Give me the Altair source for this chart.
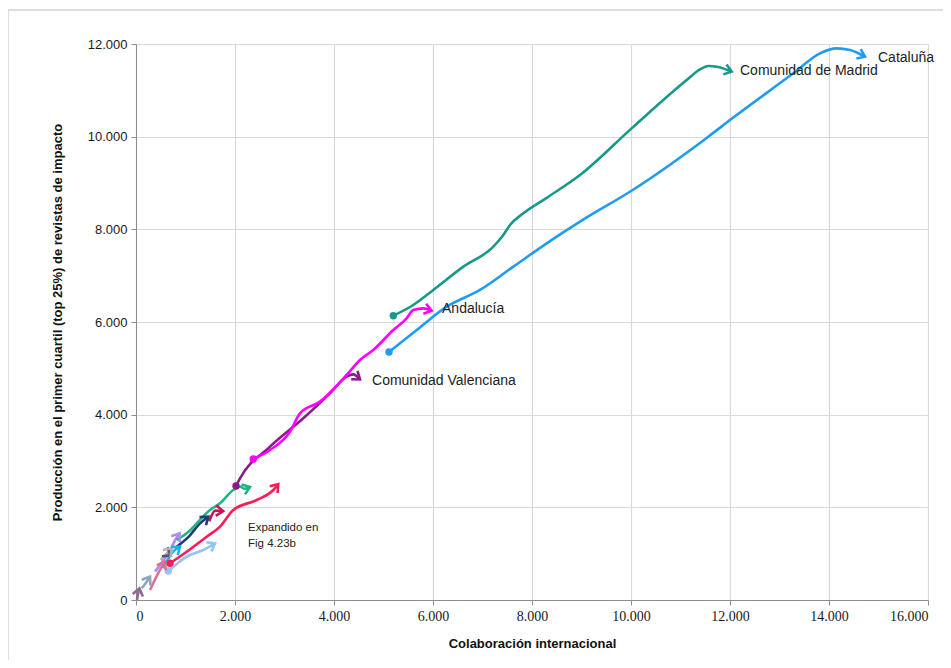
import math
import altair as alt
import pandas as pd

# ---------------- data ----------------
cat_x = [5111, 5671, 6276, 6949, 7622, 8297, 8970, 10034, 11562, 12046, 13279, 13818, 14155, 14424, 14727]
cat_y = [5352, 5827, 6330, 6691, 7194, 7698, 8166, 8849, 10000, 10396, 11367, 11799, 11906, 11870, 11726]

mad_x = [5198, 5602, 6007, 6613, 7219, 7421, 7556, 7825, 8297, 8970, 10034, 11125, 11394, 11562, 11731, 12034]
mad_y = [6136, 6367, 6691, 7194, 7626, 7878, 8094, 8346, 8680, 9172, 10201, 11222, 11452, 11524, 11510, 11403]

and_x = [2370, 2707, 3111, 3313, 3717, 4256, 4525, 4794, 5198, 5467, 5602, 5803, 5972]
and_y = [3043, 3237, 3633, 4029, 4281, 4856, 5180, 5396, 5827, 6079, 6259, 6295, 6244]

val_x = [2020, 2101, 2707, 3380, 3919, 4256, 4390, 4525]
val_y = [2460, 2626, 3309, 3921, 4461, 4820, 4870, 4760]

red_x = [687, 1024, 1428, 1697, 1966, 2438, 2774, 2873]
red_y = [792, 1042, 1366, 1582, 1942, 2158, 2374, 2500]

grn_x = [822, 1024, 1495, 1697, 1966, 2101, 2200, 2303]
grn_y = [1295, 1439, 1942, 2087, 2374, 2446, 2400, 2439]

nav_x = [822, 1050, 1293, 1461]
nav_y = [1150, 1350, 1655, 1798]

mar_x = [1480, 1600, 1760]
mar_y = [1700, 1930, 1920]

lbl_x = [653, 850, 1024, 1360, 1596]
lbl_y = [626, 800, 935, 1079, 1223]

lav_x = [384, 485, 650, 822, 880]
lav_y = [612, 755, 1000, 1350, 1440]

cyn_x = [552, 721, 889]
cyn_y = [684, 1008, 1151]

gry_x = [500, 620, 721]
gry_y = [860, 1000, 1115]

dgr_x = [560, 640, 700]
dgr_y = [900, 1000, 960]

sla_x = [115, 216, 283]
sla_y = [252, 396, 504]

pnk_x = [283, 485, 586]
pnk_y = [216, 648, 827]

mau_x = [20, 40, 70]
mau_y = [0, 120, 250]

series_names = ["mau", "pnk", "sla", "dgr", "gry", "cyn", "lav", "lbl", "mar", "nav",
                "grn", "red", "val", "and", "mad", "cat"]
series_x = [mau_x, pnk_x, sla_x, dgr_x, gry_x, cyn_x, lav_x, lbl_x, mar_x, nav_x,
            grn_x, red_x, val_x, and_x, mad_x, cat_x]
series_y = [mau_y, pnk_y, sla_y, dgr_y, gry_y, cyn_y, lav_y, lbl_y, mar_y, nav_y,
            grn_y, red_y, val_y, and_y, mad_y, cat_y]
series_colors = ["#8e6b8e", "#e0708c", "#8ca5c0", "#505a66", "#b5b5b5", "#18b2ea", "#b48af0",
                 "#93c3fb", "#c8145c", "#1f3b73", "#1fb583", "#ff1a58", "#8b1a89",
                 "#ff00ff", "#17998a", "#1f9cf0"]
dot_series = ["lbl", "red", "val", "and", "mad", "cat"]

label_text = ["Cataluña", "Comunidad de Madrid", "Andalucía", "Comunidad Valenciana"]
label_x = [14990, 12202, 6182, 4768]
label_y = [11698, 11417, 6281, 4727]

note_text = ["Expandido  en", "Fig 4.23b"]
note_x = [2263, 2263]
note_y = [1554, 1208]

x_ticks = [0, 2000, 4000, 6000, 8000, 10000, 12000, 14000, 16000]
y_ticks = [0, 2000, 4000, 6000, 8000, 10000, 12000]

# ---------------- tables ----------------
W, H = 792, 556
XMAX, YMAX = 16000, 12000

rows, heads, starts = [], [], []
for name, xs, ys in zip(series_names, series_x, series_y):
    for i, (xv, yv) in enumerate(zip(xs, ys)):
        rows.append({"s": name, "i": i, "x": xv, "y": yv})
    dxp = (xs[-1] - xs[-2]) * W / XMAX
    dyp = -(ys[-1] - ys[-2]) * H / YMAX
    ang = math.degrees(math.atan2(dyp, dxp)) % 360
    heads.append({"s": name, "x": xs[-1], "y": ys[-1], "a": ang})
    if name in dot_series:
        starts.append({"s": name, "x": xs[0], "y": ys[0]})

df = pd.DataFrame(rows)
hd = pd.DataFrame(heads)
st = pd.DataFrame(starts)
lab = pd.DataFrame({"t": label_text, "x": label_x, "y": label_y})
note = pd.DataFrame({"t": note_text, "x": note_x, "y": note_y})

xs = alt.Scale(domain=[0, XMAX], nice=False, zero=False)
ys = alt.Scale(domain=[0, YMAX], nice=False, zero=False)
cs = alt.Scale(domain=series_names, range=series_colors)

fmt = "replace(format(datum.value, ','), ',', '.')"

X = alt.X("x:Q", scale=xs, title="Colaboración internacional",
          axis=alt.Axis(values=x_ticks, labelExpr=fmt, labelFont="Liberation Sans Narrow",
                        labelFontSize=14, titlePadding=14))
Y = alt.Y("y:Q", scale=ys, title="Producción en el primer cuartil (top 25%) de revistas de impacto",
          axis=alt.Axis(values=y_ticks, labelExpr=fmt, labelFontSize=13, titlePadding=23))
C = alt.Color("s:N", scale=cs, legend=None)

frame = alt.Chart(pd.DataFrame({"k": [0]})).mark_rect(
    fillOpacity=0, stroke="#d4d4d4", strokeWidth=1.5
).encode(x=alt.value(-128), x2=alt.value(900), y=alt.value(-34), y2=alt.value(720))

lines = alt.Chart(df).mark_line(interpolate="monotone", strokeWidth=2.6).encode(
    x=X, y=Y, color=C, detail="s:N", order="i:Q")

dots = alt.Chart(st).mark_circle(size=55, opacity=1).encode(x="x:Q", y="y:Q", color=C)

arrows = alt.Chart(hd).mark_point(
    shape="M -1.5 -1.1 L 0 0 L -1.5 1.1", filled=False, size=90, strokeWidth=2.6, opacity=1
).encode(x="x:Q", y="y:Q", stroke=alt.Color("s:N", scale=cs, legend=None),
         angle=alt.Angle("a:Q", scale=None))

labels = alt.Chart(lab).mark_text(
    align="left", baseline="middle", font="Liberation Sans", fontSize=14, color="#222222"
).encode(x="x:Q", y="y:Q", text="t:N")

notes = alt.Chart(note).mark_text(
    align="left", baseline="middle", font="Liberation Sans", fontSize=11.5, color="#222222"
).encode(x="x:Q", y="y:Q", text="t:N")

chart = alt.layer(frame, lines, dots, arrows, labels, notes).properties(
    width=W, height=H,
    padding={"left": 128, "top": 36, "right": 15, "bottom": 60},
    autosize=alt.AutoSizeParams(type="none"),
).configure_view(stroke=None).configure_axis(
    gridColor="#d9d9d9", gridWidth=1.2, domainColor="#8c8c8c", tickColor="#8c8c8c",
    tickSize=5, labelColor="#1a1a1a", labelFont="Liberation Sans",
    titleFont="Liberation Sans", titleFontSize=13, titleFontWeight="bold", titleColor="#111111",
    labelPadding=4,
)

chart.save("out.html", embed_options={"renderer": "svg", "actions": False})
